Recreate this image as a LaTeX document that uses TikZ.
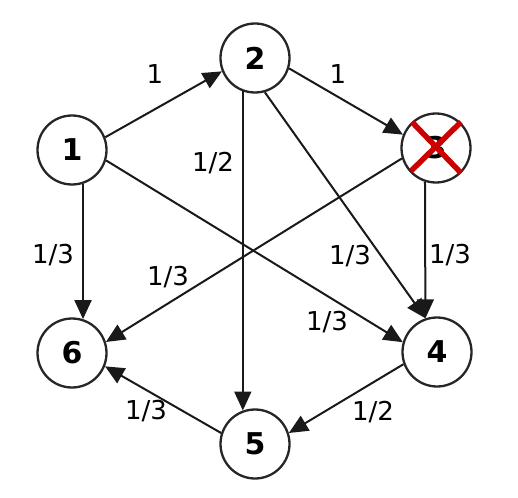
\documentclass[tikz,border=0pt]{standalone}
\usepackage{fontspec}
\setmainfont{DejaVu Sans}
\usetikzlibrary{arrows.meta}
\begin{document}
\begin{tikzpicture}[x=1pt,y=-1pt,
  vtx/.style={circle,draw=black!85,line width=2.3pt,minimum size=69pt,inner sep=0pt,fill=white,font=\fontsize{30}{32}\selectfont\bfseries},
  edge/.style={draw=black!90,line width=2pt,-{Triangle[length=19pt,width=17pt]}},
  lbl/.style={font=\fontsize{26}{28}\selectfont,inner sep=0pt}]
\useasboundingbox (0,0) rectangle (518,497);
\node[vtx] (n1) at (72,150) {1};
\node[vtx] (n2) at (255,58) {2};
\node[vtx] (n3) at (436,148) {3};
\node[vtx] (n4) at (437,352) {4};
\node[vtx] (n5) at (255,444) {5};
\node[vtx] (n6) at (72,353) {6};
\draw[edge] (n1.21) -- (n2.202);
\draw[edge] (n2.-17) -- (n3.158);
\draw[edge] (n1.-17) -- (n4.164);
\draw[edge] (n2.-74) -- (n4.109);
\draw[edge] (n3.252) -- (n4.109);
\draw[edge] (n2.250) -- (n5.110);
\draw[edge] (n1.-72) -- (n6.72);
\draw[edge] (n3.197) -- (n6.18);
\draw[edge] (n4.200) -- (n5.18);
\draw[edge] (n5.162) -- (n6.-22);
\node[lbl] (l12) at (155,74) {1};
\node[lbl] (l23) at (338,74) {1};
\node[lbl] (l16) at (53,255) {1/3};
\node[lbl] (l14) at (327,322) {1/3};
\node[lbl] (l25) at (213,163) {1/2};
\node[lbl] (l24) at (350,256) {1/3};
\node[lbl] (l36) at (168,277) {1/3};
\node[lbl] (l34) at (450,255) {1/3};
\node[lbl] (l45) at (373,412) {1/2};
\node[lbl] (l56) at (146,411) {1/3};
\coordinate (xa) at (412,122);
\coordinate (xb) at (461,173);
\coordinate (xc) at (461,122);
\coordinate (xd) at (411,171);
\draw[red!80!black,line width=5.5pt] (xa) -- (xb) (xc) -- (xd);
\end{tikzpicture}
\end{document}
